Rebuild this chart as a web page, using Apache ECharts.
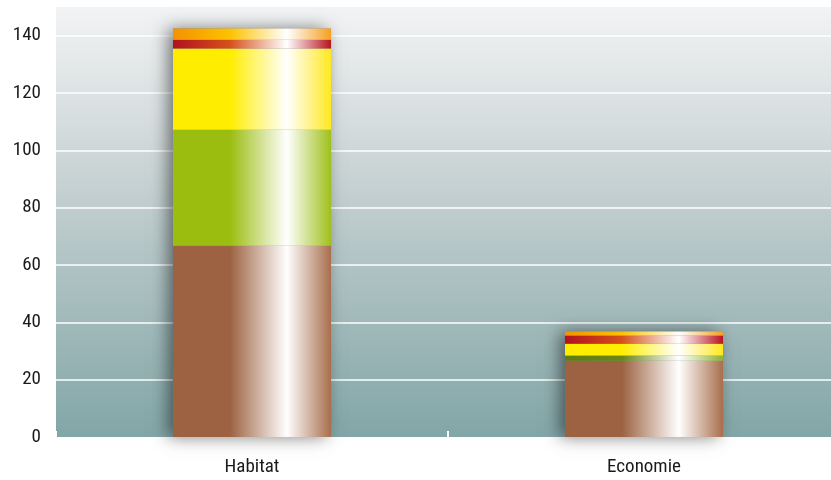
<!DOCTYPE html>
<html>
<head>
<meta charset="utf-8">
<script src="https://cdn.jsdelivr.net/npm/echarts@6/dist/echarts.min.js"></script>
<style>
  html, body { margin: 0; padding: 0; background: #fff; }
  #main { width: 831px; height: 480px; }
</style>
</head>
<body>
<div id="main"></div>
<script>
// categories & stacked values
var categories = ['Habitat', 'Economie'];
var brown  = [66.7, 26.6];
var green  = [40.5, 1.8];
var yellow = [28.3, 4.1];
var red    = [3.1, 2.9];
var orange = [3.9, 1.4];
var yTicks = [0, 20, 40, 60, 80, 100, 120, 140];

// total, only for the shadow behind each column
var totals = categories.map(function (c, i) {
    return brown[i] + green[i] + yellow[i] + red[i] + orange[i];
});

// shiny horizontal gradient: solid on the left, white highlight, colour back at the right
function shine(left, mid, right) {
    return new echarts.graphic.LinearGradient(0, 0, 1, 0, [
        {offset: 0, color: left},
        {offset: 0.36, color: mid},
        {offset: 0.72, color: '#ffffff'},
        {offset: 1, color: right}
    ]);
}

function seg(name, data, color) {
    return {
        name: name,
        type: 'bar',
        stack: 'total',
        barWidth: 158,
        barGap: '-100%',
        data: data,
        itemStyle: {color: color}
    };
}

var labelFont = 'Liberation Sans Narrow, Roboto Condensed, sans-serif';
// no line on the 0 baseline nor on the top edge
var gridColors = ['rgba(0,0,0,0)', '#fff', '#fff', '#fff', '#fff', '#fff', '#fff', '#fff', 'rgba(0,0,0,0)'];

var chart = echarts.init(document.getElementById('main'));
chart.setOption({
    animation: false,
    grid: {
        left: 56, width: 784, top: 7, bottom: 43,
        outerBoundsMode: 'none',
        show: true,
        borderWidth: 0,
        backgroundColor: new echarts.graphic.LinearGradient(0, 0, 0, 1, [
            {offset: 0, color: '#f2f3f4'},
            {offset: 0.5, color: '#bccacb'},
            {offset: 1, color: '#82a6a7'}
        ])
    },
    xAxis: {
        type: 'category',
        data: categories,
        axisLine: {show: false},
        axisTick: {show: true, inside: true, length: 6, lineStyle: {color: '#ffffff', width: 2}},
        axisLabel: {color: '#1a1a1a', fontSize: 19, margin: 21, fontFamily: labelFont}
    },
    yAxis: {
        type: 'value',
        min: 0, max: 150, interval: 20,
        axisLine: {show: false},
        axisTick: {show: false},
        axisLabel: {
            color: '#1a1a1a', fontSize: 19, margin: 15, fontFamily: labelFont,
            formatter: function (v) { return yTicks.indexOf(v) >= 0 ? String(v) : ''; }
        },
        splitLine: {lineStyle: {color: gridColors, width: 1.5}}
    },
    series: [
        {
            name: 'shadow',
            type: 'bar',
            barWidth: 158,
            barGap: '-100%',
            data: totals,
            itemStyle: {
                color: '#8a8a8a',
                shadowColor: 'rgba(0,0,0,0.5)',
                shadowBlur: 16,
                shadowOffsetX: -5
            },
            silent: true
        },
        seg('brown', brown, shine('#9c6241', '#9c6241', '#a86e4c')),
        seg('green', [
            green[0],
            {value: green[1], itemStyle: {color: shine('#5f7d10', '#6a8614', '#90b230')}}
        ], shine('#9bbd0f', '#9bbd0f', '#9fc01a')),
        seg('yellow', yellow, shine('#ffed00', '#ffed00', '#ffe820')),
        seg('red', red, shine('#b2111f', '#d6501a', '#b8141f')),
        seg('orange', orange, shine('#f39200', '#fcc200', '#f5a020'))
    ]
});
</script>
</body>
</html>
